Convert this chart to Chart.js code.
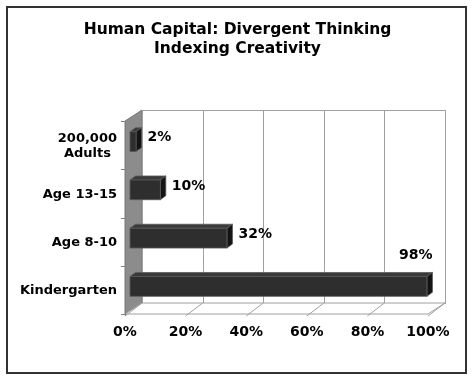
<!DOCTYPE html>
<html><head><meta charset="utf-8">
<script src="https://cdn.jsdelivr.net/npm/chart.js@4.4.0/dist/chart.umd.min.js"></script>
<style>html,body{margin:0;padding:0;background:#fff;}</style>
</head><body>
<canvas id="c" width="475" height="381" style="display:block;width:475px;height:381px"></canvas>
<script>
const categories = [['200,000', 'Adults'], 'Age 13-15', 'Age 8-10', 'Kindergarten'];
const values = [2, 10, 32, 98];
const xTickValues = [0, 20, 40, 60, 80, 100];
const xTickLabels = ['0%', '20%', '40%', '60%', '80%', '100%'];
const titleLines = ['Human Capital: Divergent Thinking', 'Indexing Creativity'];

const FONT = 'DejaVu Sans';
const DX = 17, DY = -11;       // wall depth
const FX = 5, FY = -3.5;       // bar front-face offset
const BDX = 5.5, BDY = -4;     // bar depth

function poly(ctx, pts) {
  ctx.beginPath();
  ctx.moveTo(pts[0][0], pts[0][1]);
  for (let i = 1; i < pts.length; i++) ctx.lineTo(pts[i][0], pts[i][1]);
  ctx.closePath();
}
function line(ctx, x1, y1, x2, y2) {
  ctx.beginPath(); ctx.moveTo(x1, y1); ctx.lineTo(x2, y2); ctx.stroke();
}

const threeD = {
  id: 'threeD',
  beforeDraw(chart) {
    const ctx = chart.ctx;
    ctx.save();
    ctx.fillStyle = '#fff';
    ctx.fillRect(0, 0, chart.width, chart.height);
    ctx.restore();
  },
  beforeDatasetsDraw(chart) {
    const {ctx, chartArea: a, scales: {x}} = chart;
    const L = a.left, R = a.right, T = a.top, B = a.bottom;
    ctx.save();
    ctx.lineWidth = 1;
    // side wall
    poly(ctx, [[L, T], [L + DX, T + DY], [L + DX, B + DY], [L, B]]);
    ctx.fillStyle = '#8c8c8c'; ctx.fill();
    ctx.strokeStyle = '#7a7a7a'; ctx.stroke();
    // back wall
    ctx.fillStyle = '#fff';
    ctx.fillRect(L + DX, T + DY, R - L, B - T);
    ctx.strokeStyle = '#a0a0a0';
    ctx.strokeRect(L + DX + 0.5, T + DY + 0.5, R - L, B - T);
    // gridlines on back wall
    xTickValues.forEach(v => {
      const px = Math.round(x.getPixelForValue(v) + DX) + 0.5;
      line(ctx, px, T + DY, px, B + DY);
    });
    // floor
    poly(ctx, [[L, B], [L + DX, B + DY], [R + DX, B + DY], [R, B]]);
    ctx.fillStyle = '#fff'; ctx.fill();
    ctx.strokeStyle = '#a0a0a0'; ctx.stroke();
    xTickValues.forEach(v => {
      const px = x.getPixelForValue(v);
      line(ctx, px, B + 2, px + DX, B + DY);
    });
    // category tick marks
    ctx.strokeStyle = '#808080';
    const n = categories.length;
    for (let i = 0; i <= n; i++) {
      const yy = Math.round(T + (B - T) * i / n) + 0.5;
      line(ctx, L - 4, yy, L, yy);
    }
    line(ctx, L + 0.5, T, L + 0.5, B + 2);
    ctx.restore();
  },
  afterDatasetsDraw(chart) {
    const {ctx, chartArea: a, scales: {x, y}} = chart;
    const L = a.left, R = a.right, B = a.bottom;
    const meta = chart.getDatasetMeta(0);
    ctx.save();
    meta.data.forEach((bar, i) => {
      const x0 = Math.min(bar.base, bar.x) + FX, x1 = Math.max(bar.base, bar.x) + FX;
      const yt = bar.y - bar.height / 2 + FY, yb = bar.y + bar.height / 2 + FY;
      ctx.lineWidth = 0.8;
      ctx.strokeStyle = '#5a5a5a';
      // top face
      poly(ctx, [[x0, yt], [x0 + BDX, yt + BDY], [x1 + BDX, yt + BDY], [x1, yt]]);
      ctx.fillStyle = '#3a3a3a'; ctx.fill(); ctx.stroke();
      // end face
      poly(ctx, [[x1, yt], [x1 + BDX, yt + BDY], [x1 + BDX, yb + BDY], [x1, yb]]);
      ctx.fillStyle = '#141414'; ctx.fill(); ctx.stroke();
      // front face
      ctx.fillStyle = '#2e2e2e';
      ctx.fillRect(x0, yt, x1 - x0, yb - yt);
      ctx.strokeRect(x0, yt, x1 - x0, yb - yt);

      // value label
      const txt = values[i] + '%';
      ctx.font = 'bold 14px "' + FONT + '"';
      ctx.fillStyle = '#000';
      ctx.textBaseline = 'middle';
      const w = ctx.measureText(txt).width;
      const xEnd = x1 + BDX;
      if (xEnd + 6 + w > R + DX) {
        ctx.textAlign = 'right';
        ctx.fillText(txt, xEnd, yt + BDY - 17);
      } else {
        ctx.textAlign = 'left';
        ctx.fillText(txt, xEnd + 6, (yt + BDY + yb) / 2 - 2);
      }
    });

    // category labels
    ctx.font = 'bold 13px "' + FONT + '"';
    ctx.fillStyle = '#000';
    ctx.textBaseline = 'middle';
    categories.forEach((lab, i) => {
      const cy = y.getPixelForValue(i) + 1;
      const right = L - 8;
      if (Array.isArray(lab)) {
        const widest = Math.max(...lab.map(s => ctx.measureText(s).width));
        const cx = right - widest / 2;
        ctx.textAlign = 'center';
        const lh = 14.5;
        lab.forEach((s, k) => ctx.fillText(s, cx, cy + (k - (lab.length - 1) / 2) * lh));
      } else {
        ctx.textAlign = 'right';
        ctx.fillText(lab, right, cy);
      }
    });

    // x tick labels
    ctx.font = 'bold 14px "' + FONT + '"';
    ctx.textAlign = 'center';
    xTickValues.forEach((v, k) => {
      ctx.fillText(xTickLabels[k], x.getPixelForValue(v), B + 18);
    });
    ctx.restore();
  },
  afterDraw(chart) {
    const ctx = chart.ctx;
    ctx.save();
    ctx.lineWidth = 2;
    ctx.strokeStyle = '#333';
    ctx.strokeRect(7, 7, 459, 366);
    ctx.restore();
  }
};

new Chart(document.getElementById('c'), {
  type: 'bar',
  data: {
    labels: categories,
    datasets: [{
      data: values,
      backgroundColor: 'rgba(0,0,0,0)',
      borderWidth: 0,
      barPercentage: 0.41,
      categoryPercentage: 1
    }]
  },
  options: {
    indexAxis: 'y',
    responsive: false,
    animation: false,
    devicePixelRatio: 1,
    layout: { padding: 0 },
    scales: {
      x: {
        type: 'linear', min: 0, max: 100, position: 'bottom',
        grid: { display: false }, border: { display: false },
        ticks: { display: false },
        afterFit: s => { s.height = 67; }
      },
      y: {
        type: 'category', position: 'left',
        grid: { display: false }, border: { display: false },
        ticks: { display: false },
        afterFit: s => { s.width = 125; }
      },
      yRightSpace: {
        type: 'linear', position: 'right', axis: 'y',
        grid: { display: false }, border: { display: false },
        ticks: { display: false },
        afterFit: s => { s.width = 47; }
      }
    },
    plugins: {
      legend: { display: false },
      tooltip: { enabled: false },
      title: {
        display: true,
        text: titleLines,
        color: '#000',
        font: { family: FONT, weight: 'bold', size: 15.5, lineHeight: 1.25 },
        padding: { top: 20, bottom: 62.25 }
      }
    }
  },
  plugins: [threeD]
});
</script>
</body></html>
